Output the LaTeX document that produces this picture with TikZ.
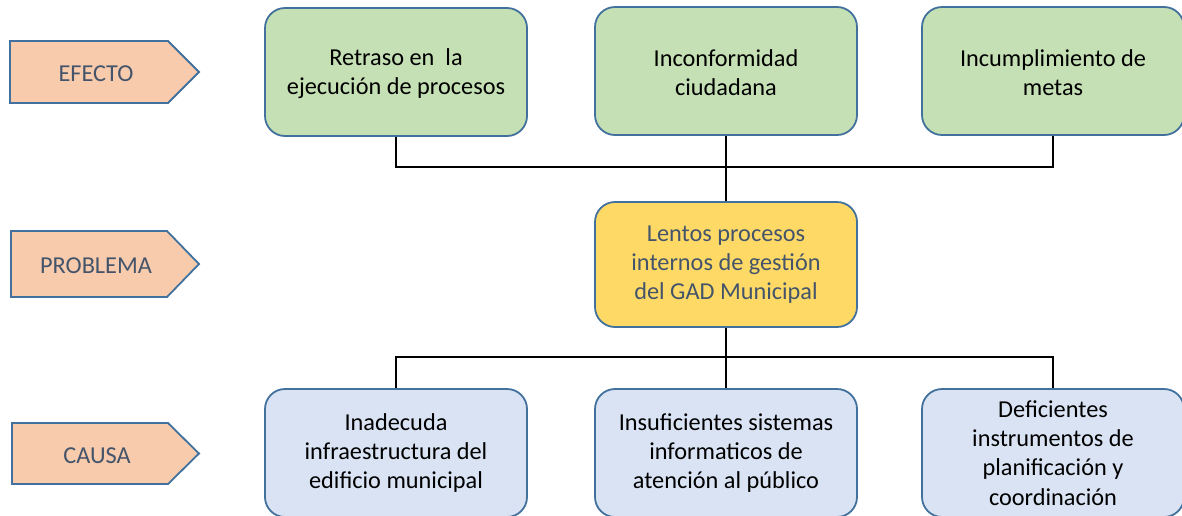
\documentclass[tikz,border=0pt]{standalone}
\usepackage{fontspec}
\setmainfont{Carlito}
\definecolor{bordercol}{HTML}{41719C}
\definecolor{greenfill}{HTML}{C5E0B4}
\definecolor{yellowfill}{HTML}{FFD966}
\definecolor{bluefill}{HTML}{DAE3F3}
\definecolor{peach}{HTML}{F8CBAD}
\definecolor{slate}{HTML}{44546A}
\begin{document}
\begin{tikzpicture}[x=1pt,y=-1pt,
  box/.style={draw=bordercol, line width=1.8pt, rounded corners=20pt,
    minimum width=262pt, minimum height=128pt, align=center, inner sep=0pt,
    font=\fontsize{24.3}{29.3}\selectfont, text=black},
  effbox/.style={box, fill=greenfill},
  probbox/.style={box, fill=yellowfill, text=slate, minimum height=125pt},
  causebox/.style={box, fill=bluefill},
  tag/.style={draw=bordercol, line width=1.8pt, fill=peach},
  taglabel/.style={font=\fontsize{24.3}{29}\selectfont, text=slate, inner sep=0pt},
  conn/.style={draw=black, line width=1.5pt}]
\useasboundingbox (0,0) rectangle (1182,515);
\clip (0,0) rectangle (1182,515);

% tags
\path[tag] (10,41) -- (168,41) -- (199,72) -- (168,103) -- (10,103) -- cycle;
\node[taglabel] (tefecto) at (96,74) {EFECTO};
\path[tag] (11,231) -- (167,231) -- (199,264) -- (167,297) -- (11,297) -- cycle;
\node[taglabel] (tproblema) at (96,266) {PROBLEMA};
\path[tag] (12,423) -- (168,423) -- (199,453.5) -- (168,484) -- (12,484) -- cycle;
\node[taglabel] (tcausa) at (97,456) {CAUSA};

% connectors
\coordinate (ej) at (726,167);
\coordinate (cj) at (726,357);

% boxes
\node[effbox] (e1) at (396,72) {\strut Retraso en\ \ la\\ejecución de procesos};
\node[effbox] (e2) at (726,71) {\strut Inconformidad\\ciudadana};
\node[effbox] (e3) at (1053,71) {\strut Incumplimiento de\\metas};
\node[probbox] (p) at (726,264.5) {Lentos procesos\\internos de gestión\\del GAD Municipal};
\node[causebox] (c1) at (396,453) {Inadecuda\\infraestructura del\\edificio municipal};
\node[causebox] (c2) at (726,453) {Insuficientes sistemas\\informaticos de\\atención al público};
\node[causebox] (c3) at (1053,453) {Deficientes\\instrumentos de\\planificación y\\coordinación};

\draw[conn] (e1.south) |- (ej) -| (e3.south);
\draw[conn] (e2.south) -- (p.north);
\draw[conn] (c1.north) |- (cj) -| (c3.north);
\draw[conn] (p.south) -- (c2.north);
\end{tikzpicture}
\end{document}
